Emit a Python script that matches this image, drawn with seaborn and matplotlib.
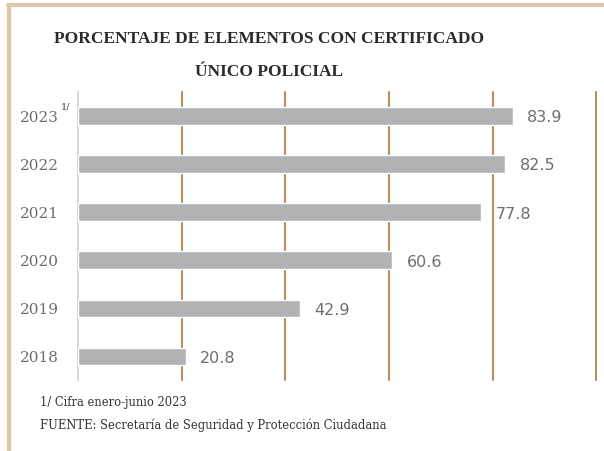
import matplotlib
matplotlib.use('Agg')
import matplotlib.pyplot as plt
import seaborn as sns
import pandas as pd
from matplotlib.lines import Line2D

# datos
anios = ['2023', '2022', '2021', '2020', '2019', '2018']
porcentajes = [83.9, 82.5, 77.8, 60.6, 42.9, 20.8]
ticks_x = [0, 20, 40, 60, 80, 100]

df = pd.DataFrame({'anio': anios, 'pct': porcentajes})

sns.set_theme(style='white')
plt.rcParams['font.family'] = ['DejaVu Serif']

fig = plt.figure(figsize=(6.04, 4.51), dpi=100)
ax = fig.add_axes([0.129, 0.157, 0.858, 0.639])

sns.barplot(data=df, x='pct', y='anio', color='#B3B3B6', saturation=1,
            width=0.36, ax=ax, orient='h')

ax.set_xlim(0, 100)
ax.set_ylim(5.5, -0.5)
ax.set_xticks(ticks_x)
ax.set_xticklabels([])
ax.tick_params(axis='both', length=0)
ax.tick_params(axis='y', pad=14)
ax.set_xlabel('')
ax.set_ylabel('')
for s in ax.spines.values():
    s.set_visible(False)

# líneas verticales de referencia
for t in ticks_x:
    if t == 0:
        ax.axvline(t, color='#DADADA', lw=1.5, zorder=0, clip_on=False)
    else:
        ax.axvline(t, color='#B8925E', lw=1.5, zorder=0, clip_on=False)

for lab in ax.get_yticklabels():
    lab.set_fontsize(11)
    lab.set_color('#6E6E6E')

# etiquetas de valor
for i, v in enumerate(porcentajes):
    ax.text(v + 2.8, i + 0.04, f'{v:.1f}', va='center', ha='left',
            fontsize=11.5, color='#6E6E6E', family='DejaVu Sans')

# superíndice 1/
fig.text(0.1, 0.763, '1/', fontsize=7, color='#444444', ha='left', va='center')

# título
fig.text(0.446, 0.913, 'PORCENTAJE DE ELEMENTOS CON CERTIFICADO',
         ha='center', va='center', fontsize=12.5, fontweight='bold',
         color='#2A2A2A', family='Liberation Serif')
fig.text(0.446, 0.84, 'ÚNICO POLICIAL',
         ha='center', va='center', fontsize=12.5, fontweight='bold',
         color='#2A2A2A', family='Liberation Serif')

# notas
fig.text(0.066, 0.107, '1/ Cifra enero-junio 2023', ha='left', va='center',
         fontsize=8.3, color='#333333')
fig.text(0.066, 0.056, 'FUENTE: Secretaría de Seguridad y Protección Ciudadana',
         ha='left', va='center', fontsize=8.3, color='#333333')

# marco beige
fig.add_artist(Line2D([0.015, 0.015], [0, 0.99], transform=fig.transFigure,
                      color='#DFC8AC', lw=3))
fig.add_artist(Line2D([0.013, 1], [0.99, 0.99], transform=fig.transFigure,
                      color='#DFC8AC', lw=3))

fig.savefig('out.png', dpi=100)
